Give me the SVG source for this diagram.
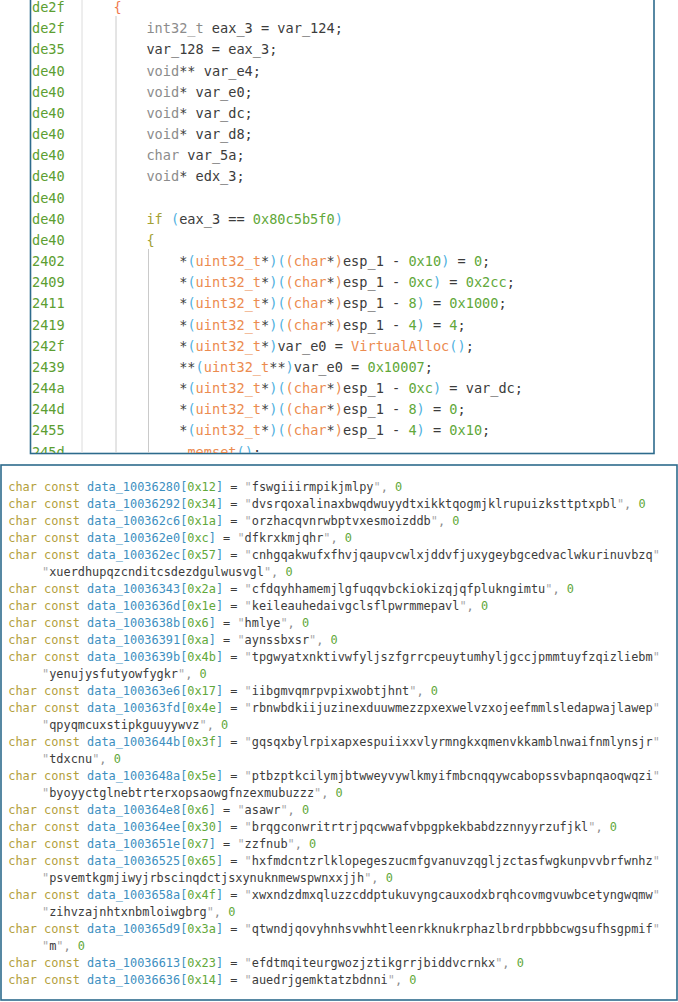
<svg xmlns="http://www.w3.org/2000/svg" width="678" height="1002" viewBox="0 0 678 1002">
<style>
.c{font-family:'DejaVu Sans Mono','Liberation Mono',monospace;font-size:13.6px;white-space:pre;fill:#3c3c3c}
.d{font-family:'DejaVu Sans Mono','Liberation Mono',monospace;font-size:11.9px;white-space:pre;fill:#3c3c3c}
.ad{fill:#5c9e31}.k{fill:#8c8c8c}.p{fill:#4fb0e0}.o{fill:#ec8b4f}.n{fill:#62a83a}.y{fill:#a3a135}.r{fill:#f07a50}
.cc{fill:#b3a03c}.b{fill:#3d8fbf}.q{fill:#a8a8a8}.cm{fill:#8a8a8a}
.frame{fill:#fff;stroke:#2d6b8c;stroke-width:1.6}
.sep{stroke:#dcdcdc;stroke-width:1}
.guide{stroke:#cacaca;stroke-width:1}
</style>
<defs>
<clipPath id="codeclip"><rect x="31" y="0" width="623" height="453"/></clipPath>
</defs>
<rect x="0" y="0" width="678" height="1002" fill="#fff"/>
<g id="code-panel">
<rect class="frame" x="30.5" y="-5" width="623.5" height="458.5"/>
<g clip-path="url(#codeclip)">
<line class="sep" x1="82" y1="0" x2="82" y2="453"/>
<line class="guide" x1="116" y1="16" x2="116" y2="453"/>
<line class="guide" x1="148.5" y1="249" x2="148.5" y2="453"/>
<g id="addresses" class="c">
<text class="c ad" x="32" y="12.1">de2f</text>
<text class="c ad" x="32" y="33.3">de2f</text>
<text class="c ad" x="32" y="54.4">de35</text>
<text class="c ad" x="32" y="75.6">de40</text>
<text class="c ad" x="32" y="96.7">de40</text>
<text class="c ad" x="32" y="117.9">de40</text>
<text class="c ad" x="32" y="139.1">de40</text>
<text class="c ad" x="32" y="160.2">de40</text>
<text class="c ad" x="32" y="181.4">de40</text>
<text class="c ad" x="32" y="202.5">de40</text>
<text class="c ad" x="32" y="223.7">de40</text>
<text class="c ad" x="32" y="244.9">de40</text>
<text class="c ad" x="32" y="266.0">2402</text>
<text class="c ad" x="32" y="287.2">2409</text>
<text class="c ad" x="32" y="308.3">2411</text>
<text class="c ad" x="32" y="329.5">2419</text>
<text class="c ad" x="32" y="350.7">242f</text>
<text class="c ad" x="32" y="371.8">2439</text>
<text class="c ad" x="32" y="393.0">244a</text>
<text class="c ad" x="32" y="414.1">244d</text>
<text class="c ad" x="32" y="435.3">2455</text>
<text class="c ad" x="32" y="456.5">245d</text>
</g>
<g id="code">
<text class="c" x="113.6" y="12.1"><tspan class="r">{</tspan></text>
<text class="c" x="146.4" y="33.3"><tspan class="k">int32_t</tspan> eax_3 = var_124;</text>
<text class="c" x="146.4" y="54.4">var_128 = eax_3;</text>
<text class="c" x="146.4" y="75.6"><tspan class="k">void</tspan>** var_e4;</text>
<text class="c" x="146.4" y="96.7"><tspan class="k">void</tspan>* var_e0;</text>
<text class="c" x="146.4" y="117.9"><tspan class="k">void</tspan>* var_dc;</text>
<text class="c" x="146.4" y="139.1"><tspan class="k">void</tspan>* var_d8;</text>
<text class="c" x="146.4" y="160.2"><tspan class="k">char</tspan> var_5a;</text>
<text class="c" x="146.4" y="181.4"><tspan class="k">void</tspan>* edx_3;</text>
<text class="c" x="146.4" y="223.7"><tspan class="y">if</tspan> <tspan class="p">(</tspan>eax_3 == <tspan class="n">0x80c5b5f0</tspan><tspan class="p">)</tspan></text>
<text class="c" x="146.4" y="244.9"><tspan class="y">{</tspan></text>
<text class="c" x="179.2" y="266.0">*<tspan class="p">(</tspan><tspan class="o">uint32_t</tspan>*<tspan class="p">)(</tspan><tspan class="o">(char</tspan>*<tspan class="o">)</tspan>esp_1 - <tspan class="n">0x10</tspan><tspan class="p">)</tspan> = <tspan class="n">0</tspan>;</text>
<text class="c" x="179.2" y="287.2">*<tspan class="p">(</tspan><tspan class="o">uint32_t</tspan>*<tspan class="p">)(</tspan><tspan class="o">(char</tspan>*<tspan class="o">)</tspan>esp_1 - <tspan class="n">0xc</tspan><tspan class="p">)</tspan> = <tspan class="n">0x2cc</tspan>;</text>
<text class="c" x="179.2" y="308.3">*<tspan class="p">(</tspan><tspan class="o">uint32_t</tspan>*<tspan class="p">)(</tspan><tspan class="o">(char</tspan>*<tspan class="o">)</tspan>esp_1 - <tspan class="n">8</tspan><tspan class="p">)</tspan> = <tspan class="n">0x1000</tspan>;</text>
<text class="c" x="179.2" y="329.5">*<tspan class="p">(</tspan><tspan class="o">uint32_t</tspan>*<tspan class="p">)(</tspan><tspan class="o">(char</tspan>*<tspan class="o">)</tspan>esp_1 - <tspan class="n">4</tspan><tspan class="p">)</tspan> = <tspan class="n">4</tspan>;</text>
<text class="c" x="179.2" y="350.7">*<tspan class="p">(</tspan><tspan class="o">uint32_t</tspan>*<tspan class="p">)</tspan>var_e0 = <tspan class="o">VirtualAlloc</tspan><tspan class="p">()</tspan>;</text>
<text class="c" x="179.2" y="371.8">**<tspan class="p">(</tspan><tspan class="o">uint32_t</tspan>**<tspan class="p">)</tspan>var_e0 = <tspan class="n">0x10007</tspan>;</text>
<text class="c" x="179.2" y="393.0">*<tspan class="p">(</tspan><tspan class="o">uint32_t</tspan>*<tspan class="p">)(</tspan><tspan class="o">(char</tspan>*<tspan class="o">)</tspan>esp_1 - <tspan class="n">0xc</tspan><tspan class="p">)</tspan> = var_dc;</text>
<text class="c" x="179.2" y="414.1">*<tspan class="p">(</tspan><tspan class="o">uint32_t</tspan>*<tspan class="p">)(</tspan><tspan class="o">(char</tspan>*<tspan class="o">)</tspan>esp_1 - <tspan class="n">8</tspan><tspan class="p">)</tspan> = <tspan class="n">0</tspan>;</text>
<text class="c" x="179.2" y="435.3">*<tspan class="p">(</tspan><tspan class="o">uint32_t</tspan>*<tspan class="p">)(</tspan><tspan class="o">(char</tspan>*<tspan class="o">)</tspan>esp_1 - <tspan class="n">4</tspan><tspan class="p">)</tspan> = <tspan class="n">0x10</tspan>;</text>
<text class="c" x="187.4" y="456.5"><tspan class="o">memset</tspan><tspan class="p">()</tspan>;</text>
</g>
</g>
</g>
<g id="data-panel">
<rect class="frame" x="1" y="465" width="676" height="535" stroke-width="2"/>
<text class="d" x="8.3" y="491"><tspan class="cc">char const</tspan> <tspan class="b">data_10036280[</tspan><tspan class="n">0x12</tspan><tspan class="b">]</tspan> = <tspan class="q">"</tspan>fswgiiirmpikjmlpy<tspan class="q">"</tspan><tspan class="cm">, </tspan><tspan class="n">0</tspan></text>
<text class="d" x="8.3" y="508"><tspan class="cc">char const</tspan> <tspan class="b">data_10036292[</tspan><tspan class="n">0x34</tspan><tspan class="b">]</tspan> = <tspan class="q">"</tspan>dvsrqoxalinaxbwqdwuyydtxikktqogmjklrupuizksttptxpbl<tspan class="q">"</tspan><tspan class="cm">, </tspan><tspan class="n">0</tspan></text>
<text class="d" x="8.3" y="525"><tspan class="cc">char const</tspan> <tspan class="b">data_100362c6[</tspan><tspan class="n">0x1a</tspan><tspan class="b">]</tspan> = <tspan class="q">"</tspan>orzhacqvnrwbptvxesmoizddb<tspan class="q">"</tspan><tspan class="cm">, </tspan><tspan class="n">0</tspan></text>
<text class="d" x="8.3" y="542"><tspan class="cc">char const</tspan> <tspan class="b">data_100362e0[</tspan><tspan class="n">0xc</tspan><tspan class="b">]</tspan> = <tspan class="q">"</tspan>dfkrxkmjqhr<tspan class="q">"</tspan><tspan class="cm">, </tspan><tspan class="n">0</tspan></text>
<text class="d" x="8.3" y="559"><tspan class="cc">char const</tspan> <tspan class="b">data_100362ec[</tspan><tspan class="n">0x57</tspan><tspan class="b">]</tspan> = <tspan class="q">"</tspan>cnhgqakwufxfhvjqaupvcwlxjddvfjuxygeybgcedvaclwkurinuvbzq<tspan class="q">"</tspan></text>
<text class="d" x="42" y="576"><tspan class="q">"</tspan>xuerdhupqzcnditcsdezdgulwusvgl<tspan class="q">"</tspan><tspan class="cm">, </tspan><tspan class="n">0</tspan></text>
<text class="d" x="8.3" y="593"><tspan class="cc">char const</tspan> <tspan class="b">data_10036343[</tspan><tspan class="n">0x2a</tspan><tspan class="b">]</tspan> = <tspan class="q">"</tspan>cfdqyhhamemjlgfuqqvbckiokizqjqfplukngimtu<tspan class="q">"</tspan><tspan class="cm">, </tspan><tspan class="n">0</tspan></text>
<text class="d" x="8.3" y="610"><tspan class="cc">char const</tspan> <tspan class="b">data_1003636d[</tspan><tspan class="n">0x1e</tspan><tspan class="b">]</tspan> = <tspan class="q">"</tspan>keileauhedaivgclsflpwrmmepavl<tspan class="q">"</tspan><tspan class="cm">, </tspan><tspan class="n">0</tspan></text>
<text class="d" x="8.3" y="627"><tspan class="cc">char const</tspan> <tspan class="b">data_1003638b[</tspan><tspan class="n">0x6</tspan><tspan class="b">]</tspan> = <tspan class="q">"</tspan>hmlye<tspan class="q">"</tspan><tspan class="cm">, </tspan><tspan class="n">0</tspan></text>
<text class="d" x="8.3" y="644"><tspan class="cc">char const</tspan> <tspan class="b">data_10036391[</tspan><tspan class="n">0xa</tspan><tspan class="b">]</tspan> = <tspan class="q">"</tspan>aynssbxsr<tspan class="q">"</tspan><tspan class="cm">, </tspan><tspan class="n">0</tspan></text>
<text class="d" x="8.3" y="661"><tspan class="cc">char const</tspan> <tspan class="b">data_1003639b[</tspan><tspan class="n">0x4b</tspan><tspan class="b">]</tspan> = <tspan class="q">"</tspan>tpgwyatxnktivwfyljszfgrrcpeuytumhyljgccjpmmtuyfzqizliebm<tspan class="q">"</tspan></text>
<text class="d" x="42" y="678"><tspan class="q">"</tspan>yenujysfutyowfygkr<tspan class="q">"</tspan><tspan class="cm">, </tspan><tspan class="n">0</tspan></text>
<text class="d" x="8.3" y="695"><tspan class="cc">char const</tspan> <tspan class="b">data_100363e6[</tspan><tspan class="n">0x17</tspan><tspan class="b">]</tspan> = <tspan class="q">"</tspan>iibgmvqmrpvpixwobtjhnt<tspan class="q">"</tspan><tspan class="cm">, </tspan><tspan class="n">0</tspan></text>
<text class="d" x="8.3" y="712"><tspan class="cc">char const</tspan> <tspan class="b">data_100363fd[</tspan><tspan class="n">0x4e</tspan><tspan class="b">]</tspan> = <tspan class="q">"</tspan>rbnwbdkiijuzinexduuwmezzpxexwelvzxojeefmmlsledapwajlawep<tspan class="q">"</tspan></text>
<text class="d" x="42" y="729"><tspan class="q">"</tspan>qpyqmcuxstipkguuyywvz<tspan class="q">"</tspan><tspan class="cm">, </tspan><tspan class="n">0</tspan></text>
<text class="d" x="8.3" y="746"><tspan class="cc">char const</tspan> <tspan class="b">data_1003644b[</tspan><tspan class="n">0x3f</tspan><tspan class="b">]</tspan> = <tspan class="q">"</tspan>gqsqxbylrpixapxespuiixxvlyrmngkxqmenvkkamblnwaifnmlynsjr<tspan class="q">"</tspan></text>
<text class="d" x="42" y="763"><tspan class="q">"</tspan>tdxcnu<tspan class="q">"</tspan><tspan class="cm">, </tspan><tspan class="n">0</tspan></text>
<text class="d" x="8.3" y="780"><tspan class="cc">char const</tspan> <tspan class="b">data_1003648a[</tspan><tspan class="n">0x5e</tspan><tspan class="b">]</tspan> = <tspan class="q">"</tspan>ptbzptkcilymjbtwweyvywlkmyifmbcnqqywcabopssvbapnqaoqwqzi<tspan class="q">"</tspan></text>
<text class="d" x="42" y="797"><tspan class="q">"</tspan>byoyyctglnebtrterxopsaowgfnzexmubuzzz<tspan class="q">"</tspan><tspan class="cm">, </tspan><tspan class="n">0</tspan></text>
<text class="d" x="8.3" y="814"><tspan class="cc">char const</tspan> <tspan class="b">data_100364e8[</tspan><tspan class="n">0x6</tspan><tspan class="b">]</tspan> = <tspan class="q">"</tspan>asawr<tspan class="q">"</tspan><tspan class="cm">, </tspan><tspan class="n">0</tspan></text>
<text class="d" x="8.3" y="831"><tspan class="cc">char const</tspan> <tspan class="b">data_100364ee[</tspan><tspan class="n">0x30</tspan><tspan class="b">]</tspan> = <tspan class="q">"</tspan>brqgconwritrtrjpqcwwafvbpgpkekbabdzznnyyrzufjkl<tspan class="q">"</tspan><tspan class="cm">, </tspan><tspan class="n">0</tspan></text>
<text class="d" x="8.3" y="848"><tspan class="cc">char const</tspan> <tspan class="b">data_1003651e[</tspan><tspan class="n">0x7</tspan><tspan class="b">]</tspan> = <tspan class="q">"</tspan>zzfnub<tspan class="q">"</tspan><tspan class="cm">, </tspan><tspan class="n">0</tspan></text>
<text class="d" x="8.3" y="865"><tspan class="cc">char const</tspan> <tspan class="b">data_10036525[</tspan><tspan class="n">0x65</tspan><tspan class="b">]</tspan> = <tspan class="q">"</tspan>hxfmdcntzrlklopegeszucmfgvanuvzqgljzctasfwgkunpvvbrfwnhz<tspan class="q">"</tspan></text>
<text class="d" x="42" y="882"><tspan class="q">"</tspan>psvemtkgmjiwyjrbscinqdctjsxynuknmewspwnxxjjh<tspan class="q">"</tspan><tspan class="cm">, </tspan><tspan class="n">0</tspan></text>
<text class="d" x="8.3" y="899"><tspan class="cc">char const</tspan> <tspan class="b">data_1003658a[</tspan><tspan class="n">0x4f</tspan><tspan class="b">]</tspan> = <tspan class="q">"</tspan>xwxndzdmxqluzzcddptukuvyngcauxodxbrqhcovmgvuwbcetyngwqmw<tspan class="q">"</tspan></text>
<text class="d" x="42" y="916"><tspan class="q">"</tspan>zihvzajnhtxnbmloiwgbrg<tspan class="q">"</tspan><tspan class="cm">, </tspan><tspan class="n">0</tspan></text>
<text class="d" x="8.3" y="933"><tspan class="cc">char const</tspan> <tspan class="b">data_100365d9[</tspan><tspan class="n">0x3a</tspan><tspan class="b">]</tspan> = <tspan class="q">"</tspan>qtwndjqovyhnhsvwhhtleenrkknukrphazlbrdrpbbbcwgsufhsgpmif<tspan class="q">"</tspan></text>
<text class="d" x="42" y="950"><tspan class="q">"</tspan>m<tspan class="q">"</tspan><tspan class="cm">, </tspan><tspan class="n">0</tspan></text>
<text class="d" x="8.3" y="967"><tspan class="cc">char const</tspan> <tspan class="b">data_10036613[</tspan><tspan class="n">0x23</tspan><tspan class="b">]</tspan> = <tspan class="q">"</tspan>efdtmqiteurgwozjztikgrrjbiddvcrnkx<tspan class="q">"</tspan><tspan class="cm">, </tspan><tspan class="n">0</tspan></text>
<text class="d" x="8.3" y="984"><tspan class="cc">char const</tspan> <tspan class="b">data_10036636[</tspan><tspan class="n">0x14</tspan><tspan class="b">]</tspan> = <tspan class="q">"</tspan>auedrjgemktatzbdnni<tspan class="q">"</tspan><tspan class="cm">, </tspan><tspan class="n">0</tspan></text>
</g>
</svg>
